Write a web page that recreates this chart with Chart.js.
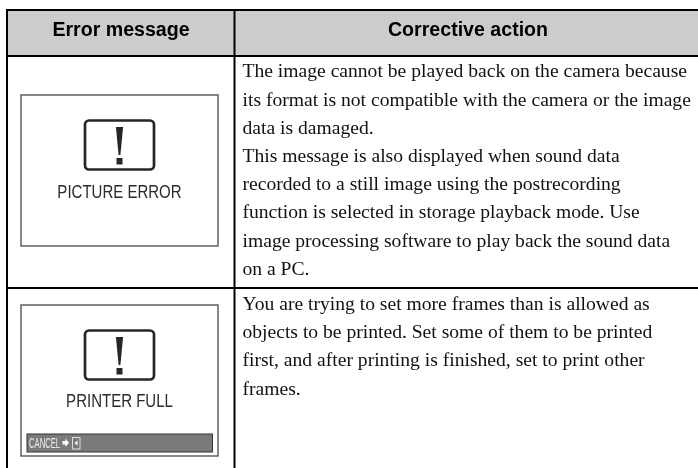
<!DOCTYPE html>
<html>
<head>
<meta charset="utf-8">
<title>Error messages</title>
<script src="https://cdn.jsdelivr.net/npm/chart.js@4"></script>
<style>
  html, body { margin: 0; padding: 0; background: #fff; }
  #wrap { width: 698px; height: 468px; }
</style>
</head>
<body>
<div id="wrap"><canvas id="table-chart" width="698" height="468"></canvas></div>
<script>
// ─── Table content ──────────────────────────────────────────

const headers = ['Error message', 'Corrective action'];
const screenMessages = ['PICTURE ERROR', 'PRINTER FULL'];
const softKeyLabel = 'CANCEL';
const row1Lines = [
  'The image cannot be played back on the camera because',
  'its format is not compatible with the camera or the image',
  'data is damaged.',
  'This message is also displayed when sound data',
  'recorded to a still image using the postrecording',
  'function is selected in storage playback mode. Use',
  'image processing software to play back the sound data',
  'on a PC.',
];
const row2Lines = [
  'You are trying to set more frames than is allowed as',
  'objects to be printed. Set some of them to be printed',
  'first, and after printing is finished, set to print other',
  'frames.',
];

// ─── Table geometry (in page units) ───

const columnEdges = [7, 234.5, 698];
const rowEdges = [10, 56, 288];
const screenBoxes = [
  { left: 21, right: 218, top: 95, bottom: 246 },
  { left: 21, right: 218, top: 305, bottom: 456 },
];

// ─── Drawing plugin ─────────────────────────────────────────

function line(ctx, x0, y0, x1, y1, width, color) {
  ctx.beginPath();
  ctx.moveTo(x0, y0);
  ctx.lineTo(x1, y1);
  ctx.lineWidth = width;
  ctx.strokeStyle = color;
  ctx.stroke();
}

// text squeezed sideways, the screen captions use a condensed face
function narrowText(ctx, text, x, y, squeeze) {
  ctx.save();
  ctx.translate(x, y);
  ctx.scale(squeeze, 1);
  ctx.fillText(text, 0, 0);
  ctx.restore();
}

function drawWarning(ctx, cx, top) {
  ctx.lineWidth = 2.7;
  ctx.strokeStyle = '#262626';
  ctx.beginPath();
  ctx.roundRect(cx - 34.5, top + 1.5, 69, 49, 4);
  ctx.stroke();
  // exclamation mark
  ctx.fillStyle = '#262626';
  ctx.beginPath();
  ctx.moveTo(cx - 3.6, top + 8);
  ctx.lineTo(cx + 3.6, top + 8);
  ctx.lineTo(cx + 0.9, top + 36);
  ctx.lineTo(cx - 0.9, top + 36);
  ctx.closePath();
  ctx.fill();
  ctx.fillRect(cx - 3, top + 39, 6, 6.5);
}

const tablePlugin = {
  id: 'tablePlugin',
  afterDraw(chart) {
    const { ctx, scales } = chart;
    const X = v => scales.x.getPixelForValue(v);
    const Y = v => scales.y.getPixelForValue(v);
    const [colL, colM, colR] = columnEdges;
    const [rowT, rowH, rowD] = rowEdges;
    const bottom = scales.y.max;

    ctx.save();

    // header band
    ctx.fillStyle = '#cccccc';
    ctx.fillRect(X(colL), Y(rowT), X(colR) - X(colL), Y(rowH) - Y(rowT));

    // rules, the table runs off the right and bottom of the page
    line(ctx, X(colL - 1), Y(rowT), X(colR), Y(rowT), 2, '#000');
    line(ctx, X(colL - 1), Y(rowH), X(colR), Y(rowH), 2, '#000');
    line(ctx, X(colL - 1), Y(rowD), X(colR), Y(rowD), 2, '#000');
    line(ctx, X(colL), Y(rowT), X(colL), Y(bottom), 2, '#000');
    line(ctx, X(colM), Y(rowT), X(colM), Y(bottom), 2, '#000');

    // header text
    ctx.fillStyle = '#000';
    ctx.textAlign = 'center';
    ctx.textBaseline = 'alphabetic';
    ctx.font = 'bold 19.6px "Liberation Sans"';
    ctx.fillText(headers[0], X(121), Y(36));
    ctx.fillText(headers[1], X(468), Y(36));

    // body text
    ctx.textAlign = 'left';
    ctx.font = '19.6px "Liberation Serif"';
    ctx.fillStyle = '#111';
    row1Lines.forEach((t, i) => ctx.fillText(t, X(242.5), Y(77.4 + i * 28.2)));
    row2Lines.forEach((t, i) => ctx.fillText(t, X(242.5), Y(310 + i * 28.2)));

    // camera screens
    screenBoxes.forEach(b => {
      ctx.lineWidth = 1.4;
      ctx.strokeStyle = '#555';
      ctx.strokeRect(X(b.left), Y(b.top), X(b.right) - X(b.left), Y(b.bottom) - Y(b.top));
    });
    drawWarning(ctx, X(119.5), Y(119));
    drawWarning(ctx, X(119.5), Y(329));

    ctx.fillStyle = '#2a2a2a';
    ctx.textAlign = 'center';
    ctx.font = '19px "Liberation Sans"';
    narrowText(ctx, screenMessages[0], X(119.5), Y(198), 0.79);
    narrowText(ctx, screenMessages[1], X(119.5), Y(407.3), 0.79);

    // soft key bar
    ctx.fillStyle = '#7a7a7a';
    ctx.fillRect(X(27), Y(434), X(212.5) - X(27), Y(452) - Y(434));
    ctx.lineWidth = 1;
    ctx.strokeStyle = '#333';
    ctx.strokeRect(X(27), Y(434), X(212.5) - X(27), Y(452) - Y(434));

    ctx.fillStyle = '#eee';
    ctx.textAlign = 'left';
    ctx.font = '15px "Liberation Sans"';
    narrowText(ctx, softKeyLabel, X(29), Y(448), 0.51);

    // arrow and button glyphs
    ctx.fillStyle = '#fff';
    ctx.beginPath();
    ctx.moveTo(X(62.5), Y(441));
    ctx.lineTo(X(65.5), Y(441));
    ctx.lineTo(X(65.5), Y(438.5));
    ctx.lineTo(X(69), Y(442.7));
    ctx.lineTo(X(65.5), Y(447));
    ctx.lineTo(X(65.5), Y(444.5));
    ctx.lineTo(X(62.5), Y(444.5));
    ctx.closePath();
    ctx.fill();
    ctx.lineWidth = 1;
    ctx.strokeStyle = '#ddd';
    ctx.strokeRect(X(72.5), Y(437.5), 7.5, 11.5);
    ctx.beginPath();
    ctx.moveTo(X(74.5), Y(443));
    ctx.lineTo(X(77.5), Y(440.5));
    ctx.lineTo(X(77.5), Y(445.5));
    ctx.closePath();
    ctx.fill();

    ctx.restore();
  },
};

// ─── Init ───────────────────────────────────────────────────

new Chart(document.getElementById('table-chart'), {
  type: 'scatter',
  data: { datasets: [{ data: [], pointRadius: 0 }] },
  options: {
    responsive: false,
    animation: false,
    layout: { padding: 0 },
    plugins: { legend: { display: false }, tooltip: { enabled: false } },
    scales: {
      x: { type: 'linear', display: false, min: 0, max: 698 },
      y: { type: 'linear', display: false, min: 0, max: 468, reverse: true },
    },
  },
  plugins: [tablePlugin],
});
</script>
</body>
</html>
